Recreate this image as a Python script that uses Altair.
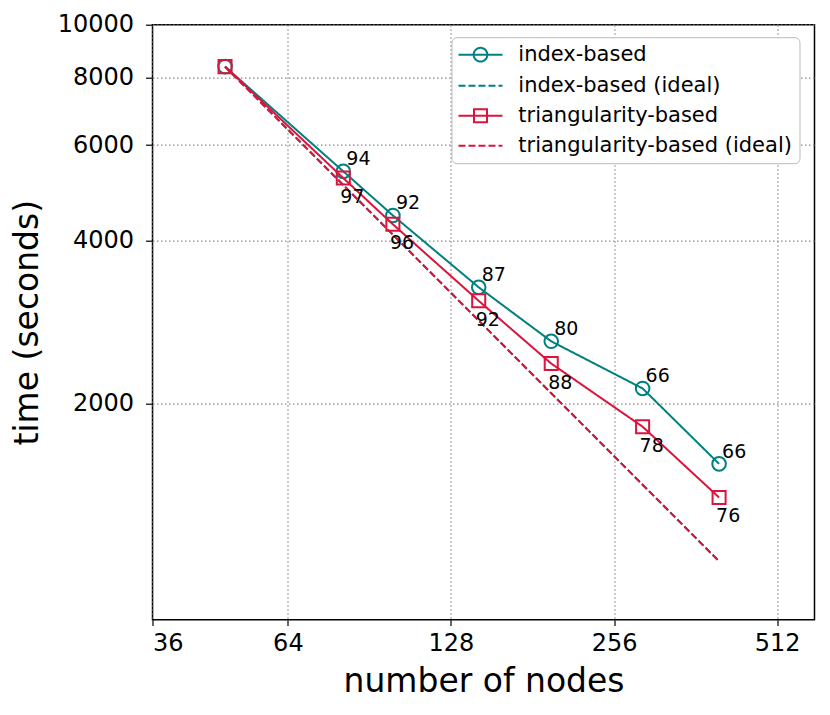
import altair as alt
import pandas as pd

# ---- data ----
nodes = [49, 81, 100, 144, 196, 289, 400]
index_time = [8370, 5365, 4450, 3280, 2608, 2135, 1550]
index_ideal = [8370, 5063, 4101, 2848, 2092, 1419, 1025]
tri_time = [8370, 5215, 4285, 3097, 2373, 1815, 1344]
tri_ideal = [8370, 5063, 4101, 2848, 2092, 1419, 1025]
index_eff = ["", "94", "92", "87", "80", "66", "66"]
tri_eff = ["", "97", "96", "92", "88", "78", "76"]

series_names = ["index-based", "index-based (ideal)",
                "triangularity-based", "triangularity-based (ideal)"]
x_ticks = [36, 64, 128, 256, 512]
y_ticks = [2000, 4000, 6000, 8000, 10000]

TEAL = "#008080"
CRIMSON = "#DC143C"
FONT = "DejaVu Sans"

rows = []
for s, ts, labs in [(series_names[0], index_time, index_eff),
                    (series_names[1], index_ideal, None),
                    (series_names[2], tri_time, tri_eff),
                    (series_names[3], tri_ideal, None)]:
    for i, (n, t) in enumerate(zip(nodes, ts)):
        rows.append({"series": s, "nodes": n, "time": t,
                     "label": labs[i] if labs else ""})
df = pd.DataFrame(rows)

x_enc = alt.X("nodes:Q",
              scale=alt.Scale(type="log", base=2, domain=[36, 600], nice=False),
              axis=alt.Axis(values=x_ticks, format="d", title="number of nodes",
                            titleY=72, titleBaseline="alphabetic",
                            tickSize=5.7, labelPadding=6))
y_enc = alt.Y("time:Q",
              scale=alt.Scale(type="log", domain=[800, 10000], nice=False),
              axis=alt.Axis(values=y_ticks, format="d", title="time (seconds)",
                            titleAngle=270, titleX=-115, titleY=297.5,
                            titleAlign="center", titleBaseline="alphabetic",
                            tickSize=7, labelPadding=12))

base = alt.Chart(df)

def line_layer(name, color, dash):
    return base.transform_filter(alt.datum.series == name).mark_line(
        color=color, strokeWidth=2, strokeDash=dash, clip=True
    ).encode(x=x_enc, y=y_enc, order="nodes:Q")

def point_layer(name, color, shape, size):
    return base.transform_filter(alt.datum.series == name).mark_point(
        color=color, shape=shape, size=size, filled=False, strokeWidth=2, opacity=1
    ).encode(x=x_enc, y=y_enc)

def text_layer(name, dx, dy):
    return base.transform_filter(
        (alt.datum.series == name) & (alt.datum.label != "")
    ).mark_text(align="left", baseline="alphabetic", dx=dx, dy=dy,
                font=FONT, fontSize=19, color="black").encode(
        x=x_enc, y=y_enc, text="label:N")

# legend symbols (unit = sqrt(symbolSize)/2 = 9.5 px)
line_path = "M-2.316,0L2.316,0"
line_path_circle = (line_path + "M-0.721,0A0.721,0.721,0,1,1,0.721,0"
                    "A0.721,0.721,0,1,1,-0.721,0Z")
line_path_square = (line_path +
                    "M-0.684,-0.684L0.684,-0.684L0.684,0.684L-0.684,0.684Z")

legend_layer = base.transform_filter("false").mark_point(
    filled=False, strokeWidth=2, opacity=1
).encode(
    color=alt.Color("series:N",
                    scale=alt.Scale(domain=series_names,
                                    range=[TEAL, TEAL, CRIMSON, CRIMSON]),
                    legend=alt.Legend(title=None)),
    shape=alt.Shape("series:N",
                    scale=alt.Scale(domain=series_names,
                                    range=[line_path_circle, line_path,
                                           line_path_square, line_path]),
                    legend=alt.Legend(title=None)),
    strokeDash=alt.StrokeDash("series:N",
                              scale=alt.Scale(domain=series_names,
                                              range=[[1, 0], [7, 3], [1, 0], [7, 3]]),
                              legend=alt.Legend(title=None)),
)

chart = alt.layer(
    line_layer(series_names[0], TEAL, [1, 0]),
    point_layer(series_names[0], TEAL, "circle", 185),
    line_layer(series_names[1], TEAL, [7, 3]),
    line_layer(series_names[2], CRIMSON, [1, 0]),
    point_layer(series_names[2], CRIMSON, "square", 170),
    line_layer(series_names[3], CRIMSON, [7, 3]),
    text_layer(series_names[0], 3, -6),
    text_layer(series_names[2], -3, 25),
    legend_layer,
).properties(
    width=662, height=595,
    autosize=alt.AutoSizeParams(type="none"),
    padding={"left": 144.5, "top": 16.7, "right": 4, "bottom": 85},
    background="white",
).configure_view(
    stroke="black", strokeWidth=1.5, fill="white"
).configure_axis(
    domain=False, ticks=True, tickColor="black", tickWidth=1.2,
    labelFont=FONT, labelFontSize=24, labelColor="black",
    titleFont=FONT, titleFontSize=33, titleFontWeight="normal", titleColor="black",
    grid=True, gridColor="#8c8c8c", gridDash=[1.5, 2.5], gridWidth=1.2,
).configure_legend(
    orient="none", legendX=299, legendY=12.5,
    fillColor="white", strokeColor="#bbbbbb", cornerRadius=5, padding=7,
    labelFont=FONT, labelFontSize=21, labelColor="black", labelLimit=0,
    symbolSize=361, symbolOffset=11.5, labelOffset=27.3,
    symbolStrokeWidth=2, symbolFillColor="transparent",
    rowPadding=8,
)

chart.save("out.html", embed_options={"renderer": "svg", "actions": False})
